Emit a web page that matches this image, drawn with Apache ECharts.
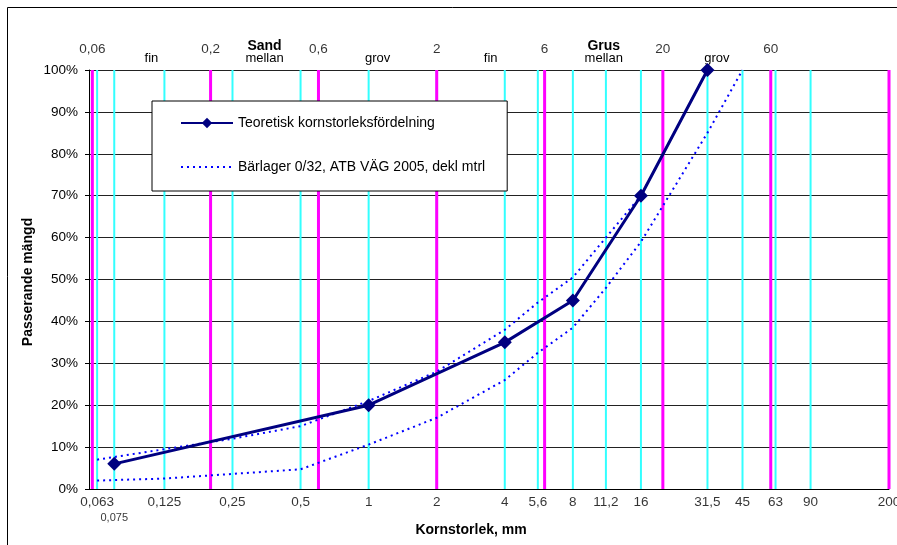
<!DOCTYPE html>
<html>
<head>
<meta charset="utf-8">
<script src="https://cdn.jsdelivr.net/npm/echarts@6/dist/echarts.min.js"></script>
<style>html,body{margin:0;padding:0;background:#fff}#c{width:897px;height:545px}</style>
</head>
<body>
<div id="c"></div>
<script>
// ---- Data ----
const seriesTheoryName = 'Teoretisk kornstorleksfördelning';
const seriesLimitName = 'Bärlager 0/32, ATB VÄG 2005, dekl mtrl';

const sieveTheory = [0.075, 1, 4, 8, 16, 31.5];
const passTheory  = [6, 20, 35, 45, 70, 100];

const sieveUpper = [0.063, 0.125, 0.25, 0.5, 1, 2, 4, 5.6, 8, 11.2, 16, 31.5];
const passUpper  = [7, 9.5, 12, 15, 21, 28, 38, 44.5, 50.5, 60, 70, 100];

const sieveLower = [0.063, 0.125, 0.25, 0.5, 1, 2, 4, 5.6, 8, 11.2, 16, 31.5, 45];
const passLower  = [2, 2.5, 3.6, 4.7, 10.6, 17, 26, 32.5, 38.5, 48, 59, 85, 100];

// sieve (cyan) lines and bottom tick labels
const sieveLines = [0.063, 0.075, 0.125, 0.25, 0.5, 1, 2, 4, 5.6, 8, 11.2, 16, 31.5, 45, 63, 90];
const bottomTicks = [0.063, 0.125, 0.25, 0.5, 1, 2, 4, 5.6, 8, 11.2, 16, 31.5, 45, 63, 90, 200];
const bottomTickLabels = ['0,063', '0,125', '0,25', '0,5', '1', '2', '4', '5,6', '8', '11,2', '16', '31,5', '45', '63', '90', '200'];
const extraTick = 0.075;
const extraTickLabel = '0,075';

// fraction boundaries (magenta lines) and top labels
const fractionLines = [0.06, 0.2, 0.6, 2, 6, 20, 60, 200];
const topTicks = [0.06, 0.2, 0.6, 2, 6, 20, 60];
const topTickLabels = ['0,06', '0,2', '0,6', '2', '6', '20', '60'];
const zoneBounds = [0.06, 0.2, 0.6, 2, 6, 20, 60];
const zoneNames = ['fin', 'mellan', 'grov', 'fin', 'mellan', 'grov'];
const zoneHeaders = ['', 'Sand', '', '', 'Grus', ''];

const yTicksMax = 100;

// ---- Chart ----
const FONT = 'Liberation Sans, Arial, sans-serif';
const chart = echarts.init(document.getElementById('c'), null, {renderer: 'canvas'});

const series = [];

sieveLines.forEach(v => series.push({
  type: 'line', data: [[v, 0], [v, yTicksMax]], symbol: 'none', silent: true, z: 1,
  lineStyle: {color: '#33FFFF', width: 2}, animation: false
}));

fractionLines.forEach((v, i) => {
  const s = {
    type: 'line', data: [[v, 0], [v, yTicksMax]], symbol: 'none', silent: true, z: 2,
    lineStyle: {color: '#FF00FF', width: 3}, animation: false
  };
  if (i === 0) {
    s.markArea = {
      silent: true,
      itemStyle: {color: 'transparent'},
      data: zoneNames.map((n, k) => [
        {xAxis: zoneBounds[k], yAxis: yTicksMax,
         label: {formatter: zoneHeaders[k] ? '{b|' + zoneHeaders[k] + '}\n{n|' + n + '}' : '{n|' + n + '}'}},
        {xAxis: zoneBounds[k + 1], yAxis: yTicksMax}
      ]),
      label: {
        show: true, position: 'top', distance: 5, color: '#000', fontFamily: FONT,
        rich: {
          b: {fontWeight: 'bold', fontSize: 14, lineHeight: 12, fontFamily: FONT, color: '#000'},
          n: {fontSize: 13, lineHeight: 13, fontFamily: FONT, color: '#000'}
        }
      }
    };
  }
  series.push(s);
});

// bottom tick labels
series.push({
  type: 'scatter', symbolSize: 1, silent: true, z: 5, animation: false,
  itemStyle: {color: 'transparent'},
  data: bottomTicks.map((v, i) => ({value: [v, 0], label: {formatter: bottomTickLabels[i]}})),
  label: {show: true, position: 'bottom', distance: 6, color: '#000', fontSize: 13.5, fontFamily: FONT}
});
series.push({
  type: 'scatter', symbolSize: 1, silent: true, z: 5, animation: false,
  itemStyle: {color: 'transparent'},
  data: [{value: [extraTick, 0], label: {formatter: extraTickLabel}}],
  label: {show: true, position: 'bottom', distance: 23, color: '#000', fontSize: 11, fontFamily: FONT}
});
// top tick labels
series.push({
  type: 'scatter', symbolSize: 1, silent: true, z: 5, animation: false,
  itemStyle: {color: 'transparent'},
  data: topTicks.map((v, i) => ({value: [v, yTicksMax], label: {formatter: topTickLabels[i]}})),
  label: {show: true, position: 'top', distance: 13, color: '#000', fontSize: 13.5, fontFamily: FONT}
});

// limit curves
series.push({
  name: seriesLimitName, type: 'line', symbol: 'none', z: 8, animation: false,
  data: sieveUpper.map((v, i) => [v, passUpper[i]]),
  lineStyle: {color: '#0000FF', width: 2, type: [2, 4]}, itemStyle: {color: '#0000FF'}
});
series.push({
  name: seriesLimitName, type: 'line', symbol: 'none', z: 8, animation: false,
  data: sieveLower.map((v, i) => [v, passLower[i]]),
  lineStyle: {color: '#0000FF', width: 2, type: [2, 4]}, itemStyle: {color: '#0000FF'}
});
// theory curve
series.push({
  name: seriesTheoryName, type: 'line', symbol: 'diamond', symbolSize: 14, z: 10, animation: false,
  data: sieveTheory.map((v, i) => [v, passTheory[i]]),
  lineStyle: {color: '#000080', width: 3}, itemStyle: {color: '#000080'}
});

chart.setOption({
  animation: false,
  textStyle: {fontFamily: FONT},
  grid: {left: 89, right: 8, top: 70, bottom: 56, containLabel: false},
  xAxis: {
    type: 'log', min: 0.058, max: 200, logBase: 10,
    axisLine: {show: true, onZero: false, lineStyle: {color: '#000', width: 1}},
    axisTick: {show: false}, axisLabel: {show: false}, splitLine: {show: false}
  },
  yAxis: {
    type: 'value', min: 0, max: 100, interval: 10,
    axisLine: {show: true, lineStyle: {color: '#000', width: 1}},
    axisTick: {show: true, length: 4, lineStyle: {color: '#000'}},
    axisLabel: {formatter: '{value}%', margin: 11, fontSize: 13.5, color: '#000', fontFamily: FONT},
    splitLine: {show: true, lineStyle: {color: '#222', width: 1}}
  },
  legend: {
    data: [
      {name: seriesTheoryName},
      {name: seriesLimitName, itemStyle: {opacity: 0}}
    ],
    orient: 'vertical', left: 152, top: 101,
    padding: [15, 22, 17, 28], itemGap: 30, itemWidth: 52, itemHeight: 13,
    backgroundColor: '#fff', borderColor: '#000', borderWidth: 1, borderRadius: 0,
    textStyle: {fontSize: 14, color: '#000', fontFamily: FONT},
    selectedMode: false, z: 20
  },
  graphic: [
    {type: 'rect', silent: true, z: -10, shape: {x: 7.5, y: 7.5, width: 1000, height: 1000},
     style: {fill: 'none', stroke: '#000', lineWidth: 1}},
    {type: 'text', x: 471, y: 530, silent: true,
     style: {text: 'Kornstorlek, mm', font: 'bold 14px ' + FONT, fill: '#000', textAlign: 'center', textVerticalAlign: 'middle'}},
    {type: 'text', x: 28, y: 282, rotation: Math.PI / 2, silent: true,
     style: {text: 'Passerande mängd', font: 'bold 14px ' + FONT, fill: '#000', textAlign: 'center', textVerticalAlign: 'middle'}}
  ],
  series: series
});
</script>
</body>
</html>
